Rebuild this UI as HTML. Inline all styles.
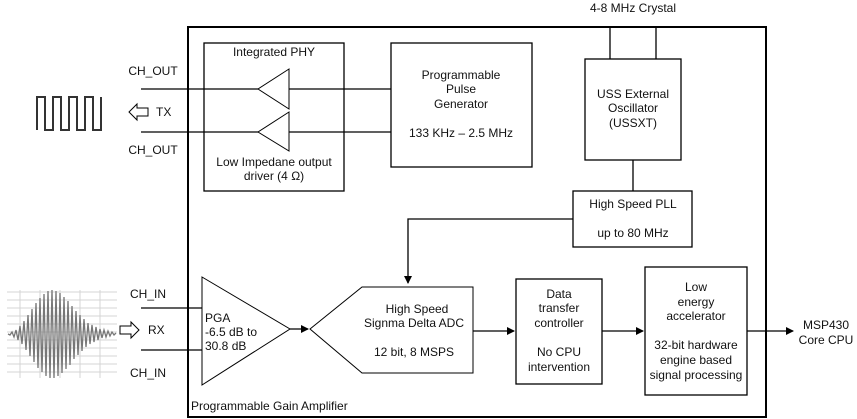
<!DOCTYPE html>
<html><head><style>body{margin:0;background:#fff}svg{display:block}text{font-family:"Liberation Sans",sans-serif;font-size:12px;fill:#111}</style></head><body>
<svg width="857" height="419" viewBox="0 0 857 419">
<defs><marker id="a" markerWidth="8" markerHeight="8" refX="7" refY="4" orient="auto" markerUnits="userSpaceOnUse"><path d="M0,0 L8,4 L0,8z" fill="#000"/></marker></defs>
<g fill="none" stroke="#000" stroke-width="1.3">
<rect x="188" y="27" width="578" height="390" stroke-width="2"/>
<rect x="204" y="43" width="140" height="148"/>
<rect x="391" y="43" width="141" height="124"/>
<rect x="585" y="59" width="96" height="101"/>
<rect x="573" y="191" width="119" height="56"/>
<rect x="516" y="279" width="86" height="105"/>
<rect x="645" y="267" width="102" height="128"/>
<path d="M610 27V59M656 27V59M633 160V191"/>
<path d="M141 89H258M289 89H391M141 132H258M289 132H391" stroke-width="1.2"/>
<path d="M289 69L258 89L289 109zM289 112L258 132L289 151z" stroke-width="1"/>
<path d="M573 219H408V283" marker-end="url(#a)"/>
<path d="M310 329L362 287H473V373H362z" stroke-width="1"/>
<path d="M202 277L290 329L202 385z" stroke-width="1"/>
<path d="M141 308H202M141 350H202"/>
<path d="M290 329H308" marker-end="url(#a)"/>
<path d="M473 331H514" marker-end="url(#a)"/>
<path d="M602 331H643" marker-end="url(#a)"/>
<path d="M747 331H793" marker-end="url(#a)"/>
<path d="M37 130V97H45V130H53V97H61V130H69V97H77V130H85V97H93V130H101V97" stroke="#333" stroke-width="2"/>
<path d="M148 108H137L137 104L129 112L137 120L137 116H148z" stroke-width="1"/>
<path d="M120 326H131V322L139 330L131 338V334H120z" stroke-width="1"/>
</g>
<g stroke="#d4d4d4" stroke-width="1">
<path d="M7 292H117M7 300H117M7 308H117M7 316H117M7 324H117M7 332H117M7 340H117M7 348H117M7 356H117M7 364H117M7 372H117M20 290V378M40 290V378M60 290V378M80 290V378M100 290V378"/>
</g>
<path d="M8 334 L10 335 L12 332 L14 337 L16 330 L18 340 L20 326 L22 344 L24 321 L26 350 L28 315 L30 356 L32 309 L34 362 L36 303 L38 368 L40 298 L42 372 L44 294 L46 376 L48 291 L50 378 L52 290 L54 378 L56 291 L58 376 L60 293 L62 373 L64 297 L66 369 L68 301 L70 365 L72 306 L74 359 L76 311 L78 355 L80 315 L82 351 L84 319 L86 347 L88 323 L90 344 L92 325 L94 342 L96 327 L98 340 L100 329 L102 338 L104 330 L106 337 L108 331 L110 336 L112 332 L114 335 L116 333" fill="none" stroke="#777" stroke-width="1.3"/>
<text x="633" y="12" text-anchor="middle">4-8 MHz Crystal</text>
<text x="274" y="56" text-anchor="middle">Integrated PHY</text>
<text x="274" y="166" text-anchor="middle">Low Impedane output</text>
<text x="274" y="180" text-anchor="middle">driver (4 Ω)</text>
<text x="153" y="75" text-anchor="middle">CH_OUT</text>
<text x="153" y="154" text-anchor="middle">CH_OUT</text>
<text x="156" y="116">TX</text>
<text x="461" y="79" text-anchor="middle">Programmable</text>
<text x="461" y="93" text-anchor="middle">Pulse</text>
<text x="461" y="108" text-anchor="middle">Generator</text>
<text x="461" y="137" text-anchor="middle">133 KHz – 2.5 MHz</text>
<text x="633" y="98" text-anchor="middle">USS External</text>
<text x="633" y="112" text-anchor="middle">Oscillator</text>
<text x="633" y="127" text-anchor="middle">(USSXT)</text>
<text x="633" y="208" text-anchor="middle">High Speed PLL</text>
<text x="633" y="237" text-anchor="middle">up to 80 MHz</text>
<text x="148" y="298" text-anchor="middle">CH_IN</text>
<text x="148" y="377" text-anchor="middle">CH_IN</text>
<text x="148" y="334">RX</text>
<text x="205" y="322">PGA</text>
<text x="205" y="336">-6.5 dB to</text>
<text x="205" y="350">30.8 dB</text>
<text x="417" y="313" text-anchor="middle">High Speed</text>
<text x="414" y="327" text-anchor="middle">Signma Delta ADC</text>
<text x="414" y="356" text-anchor="middle">12 bit, 8 MSPS</text>
<text x="559" y="298" text-anchor="middle">Data</text>
<text x="559" y="312" text-anchor="middle">transfer</text>
<text x="559" y="327" text-anchor="middle">controller</text>
<text x="559" y="356" text-anchor="middle">No CPU</text>
<text x="559" y="371" text-anchor="middle">intervention</text>
<text x="696" y="291" text-anchor="middle">Low</text>
<text x="696" y="306" text-anchor="middle">energy</text>
<text x="696" y="320" text-anchor="middle">accelerator</text>
<text x="696" y="349" text-anchor="middle">32-bit hardware</text>
<text x="696" y="364" text-anchor="middle">engine based</text>
<text x="696" y="379" text-anchor="middle">signal processing</text>
<text x="826" y="329" text-anchor="middle">MSP430</text>
<text x="826" y="344" text-anchor="middle">Core CPU</text>
<text x="191" y="410">Programmable Gain Amplifier</text>
</svg>
</body></html>
